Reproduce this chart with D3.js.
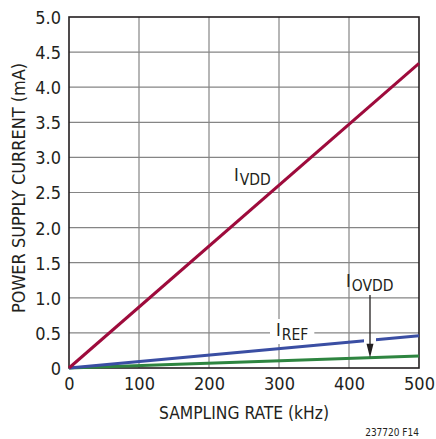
<!DOCTYPE html>
<html>
<head>
<meta charset="utf-8">
<script src="https://cdn.jsdelivr.net/npm/d3@7"></script>
<style>
  body { margin: 0; background: #fff; }
  svg text { font-family: "DejaVu Sans Condensed", "DejaVu Sans", sans-serif; font-stretch: condensed; fill: #231f20; }
</style>
</head>
<body>
<svg id="chart" width="436" height="439"></svg>
<script>
"use strict";

// sampling rate (kHz) and currents (mA)
const rates = [0, 500];
const iVdd = [0, 4.34];
const iRef = [0, 0.46];
const iOvdd = [0, 0.17];
const xTicks = [0, 100, 200, 300, 400, 500];
const yTicks = [0, 0.5, 1.0, 1.5, 2.0, 2.5, 3.0, 3.5, 4.0, 4.5, 5.0];

const svg = d3.select("#chart");
const pLeft = 69, pRight = 419, pTop = 17, pBottom = 368;

const x = d3.scaleLinear().domain([0, 500]).range([pLeft, pRight]);
const y = d3.scaleLinear().domain([0, 5]).range([pBottom, pTop]);

// grid
svg.append("g")
   .selectAll("line")
   .data(xTicks.slice(1, -1))
   .join("line")
   .attr("x1", d => x(d)).attr("x2", d => x(d))
   .attr("y1", pTop).attr("y2", pBottom)
   .attr("stroke", "#858585").attr("stroke-width", 1.2);

svg.append("g")
   .selectAll("line")
   .data(yTicks.slice(1, -1))
   .join("line")
   .attr("x1", pLeft).attr("x2", pRight)
   .attr("y1", d => y(d)).attr("y2", d => y(d))
   .attr("stroke", "#858585").attr("stroke-width", 1.2);

// frame
svg.append("rect")
   .attr("x", pLeft).attr("y", pTop)
   .attr("width", pRight - pLeft).attr("height", pBottom - pTop)
   .attr("fill", "none").attr("stroke", "#231f20").attr("stroke-width", 1.6);

// tick labels
let xAxis = svg.append("g")
   .attr("transform", "translate(0," + pBottom + ")")
   .call(d3.axisBottom(x).tickValues(xTicks).tickSize(0).tickPadding(9)
          .tickFormat(d => d));
xAxis.select(".domain").remove();
xAxis.selectAll("text").attr("font-size", 18).attr("fill", "#2b2b2b");

let yAxis = svg.append("g")
   .attr("transform", "translate(" + pLeft + ",0)")
   .call(d3.axisLeft(y).tickValues(yTicks).tickSize(0).tickPadding(8)
          .tickFormat(d => d === 0 ? "0" : d3.format(".1f")(d)));
yAxis.select(".domain").remove();
yAxis.selectAll("text").attr("font-size", 18).attr("fill", "#2b2b2b")
     .attr("dy", "0.36em");
svg.selectAll("g").attr("font-family", null);

// series
let line = d3.line()
             .x((d, i) => x(rates[i]))
             .y(d => y(d));

const series = [
  {vals: iOvdd, color: "#2e8540"},
  {vals: iRef, color: "#3a4ea3"},
  {vals: iVdd, color: "#9e0b3c"}
];

svg.append("g")
   .selectAll("path")
   .data(series)
   .join("path")
   .attr("d", d => line(d.vals))
   .attr("fill", "none")
   .attr("stroke", d => d.color)
   .attr("stroke-width", 3);

// labels
function subLabel(px, py, main, sub, bg)
{
    let t = svg.append("text")
               .attr("x", px).attr("y", py)
               .attr("font-size", 18);
    t.append("tspan").text(main);
    t.append("tspan").attr("dy", 4).attr("dx", 1)
     .attr("font-size", 15.5).text(sub);
    if (bg)
    {
        let b = t.node().getBBox();
        svg.insert("rect", () => t.node())
           .attr("x", b.x - 6).attr("y", b.y)
           .attr("width", b.width + 12).attr("height", b.height)
           .attr("fill", "#fff");
    }
    return t;
}

subLabel(234, 181, "I", "VDD", false);
subLabel(276, 336, "I", "REF", true);
subLabel(346, 287, "I", "OVDD", false);

// arrow for IOVDD
let ax = x(430);
let refAt = y(430 / 500 * iRef[1]);
let ovAt = y(430 / 500 * iOvdd[1]);
svg.append("rect")
   .attr("x", ax - 6).attr("y", refAt - 4)
   .attr("width", 12).attr("height", 8)
   .attr("fill", "#fff");
svg.append("line")
   .attr("x1", ax).attr("x2", ax)
   .attr("y1", 295).attr("y2", ovAt - 10)
   .attr("stroke", "#231f20").attr("stroke-width", 1.3);
svg.append("path")
   .attr("d", d3.line()([[ax - 3.5, ovAt - 14], [ax + 3.5, ovAt - 14], [ax, ovAt]]) + "Z")
   .attr("fill", "#231f20");

// axis titles
svg.append("text")
   .attr("x", 244).attr("y", 419)
   .attr("text-anchor", "middle")
   .attr("font-size", 18)
   .attr("textLength", 170).attr("lengthAdjust", "spacingAndGlyphs")
   .text("SAMPLING RATE (kHz)");

svg.append("text")
   .attr("transform", "translate(25,188) rotate(-90)")
   .attr("text-anchor", "middle")
   .attr("font-size", 18)
   .attr("textLength", 250).attr("lengthAdjust", "spacingAndGlyphs")
   .text("POWER SUPPLY CURRENT (mA)");

svg.append("text")
   .attr("x", 419).attr("y", 436)
   .attr("text-anchor", "end")
   .attr("font-size", 10)
   .text("237720 F14");
</script>
</body>
</html>
